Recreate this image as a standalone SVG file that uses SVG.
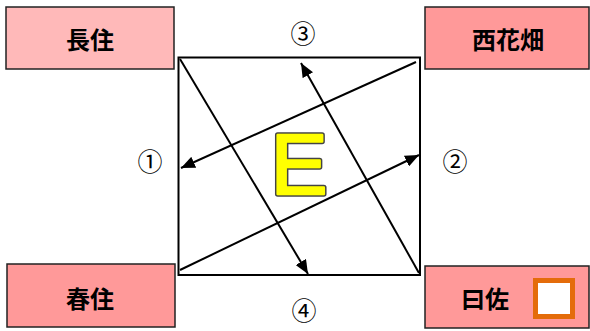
<svg xmlns="http://www.w3.org/2000/svg" width="590" height="331" viewBox="0 0 590 331">
<defs>
<style>
.box{stroke:#222;stroke-width:1.5}
.lbl{font-family:"Noto Sans CJK JP","Noto Sans CJK SC",sans-serif;font-weight:bold;font-size:24px;fill:#000;text-anchor:middle;dominant-baseline:central}
.num{font-family:"Noto Sans CJK JP","Noto Sans CJK SC",sans-serif;font-size:25px;fill:#000;text-anchor:middle;dominant-baseline:central}
.ln{stroke:#000;stroke-width:2;fill:none}
.e{font-family:"Liberation Sans",Arial,sans-serif;font-size:85px;text-anchor:middle;stroke-linejoin:round;stroke-linecap:round}
</style>
<marker id="ah" viewBox="0 0 14 12" refX="14" refY="6" markerWidth="14" markerHeight="12" markerUnits="userSpaceOnUse" orient="auto">
<path d="M0,0 L14,6 L0,12 Z" fill="#000"/>
</marker>
</defs>
<rect width="590" height="331" fill="#fff"/>
<g id="node-nagazumi"><rect class="box" x="6" y="7" width="168" height="62" fill="#FFB9B9"/><text class="lbl" x="90" y="38">長住</text></g>
<g id="node-nishikabata"><rect class="box" x="425" y="7" width="164" height="62" fill="#FF9999"/><text class="lbl" x="508" y="38">西花畑</text></g>
<g id="node-haruzumi"><rect class="box" x="7" y="264" width="168" height="63" fill="#FF9999"/><text class="lbl" x="90" y="297">春住</text></g>
<g id="node-osa"><rect class="box" x="425" y="266" width="164" height="62" fill="#FF9999"/><text class="lbl" x="485" y="297">曰佐</text><rect x="535.5" y="280.5" width="37" height="36" fill="#fff" stroke="#E46C0A" stroke-width="5"/></g>
<g id="node-square"><rect x="178.5" y="57.5" width="241.5" height="217.5" fill="#fff" stroke="#000" stroke-width="2"/>
<text class="e" x="299" y="194" fill="#444" stroke="#444" stroke-width="5.5">E</text>
<text class="e" x="299" y="194" fill="#FFFF00" stroke="#FFFF00" stroke-width="2.5">E</text>
</g>
<g id="connectors">
<line class="ln" x1="180" y1="59" x2="308" y2="274" marker-end="url(#ah)"/>
<line class="ln" x1="416" y1="62" x2="181" y2="168" marker-end="url(#ah)"/>
<line class="ln" x1="419" y1="273" x2="301" y2="63" marker-end="url(#ah)"/>
<line class="ln" x1="180" y1="270" x2="419" y2="155" marker-end="url(#ah)"/>
</g>
<g id="labels">
<text class="num" x="303" y="32">③</text>
<text class="num" x="150" y="160">①</text>
<text class="num" x="455" y="160">②</text>
<text class="num" x="304" y="309">④</text>
</g>
</svg>
